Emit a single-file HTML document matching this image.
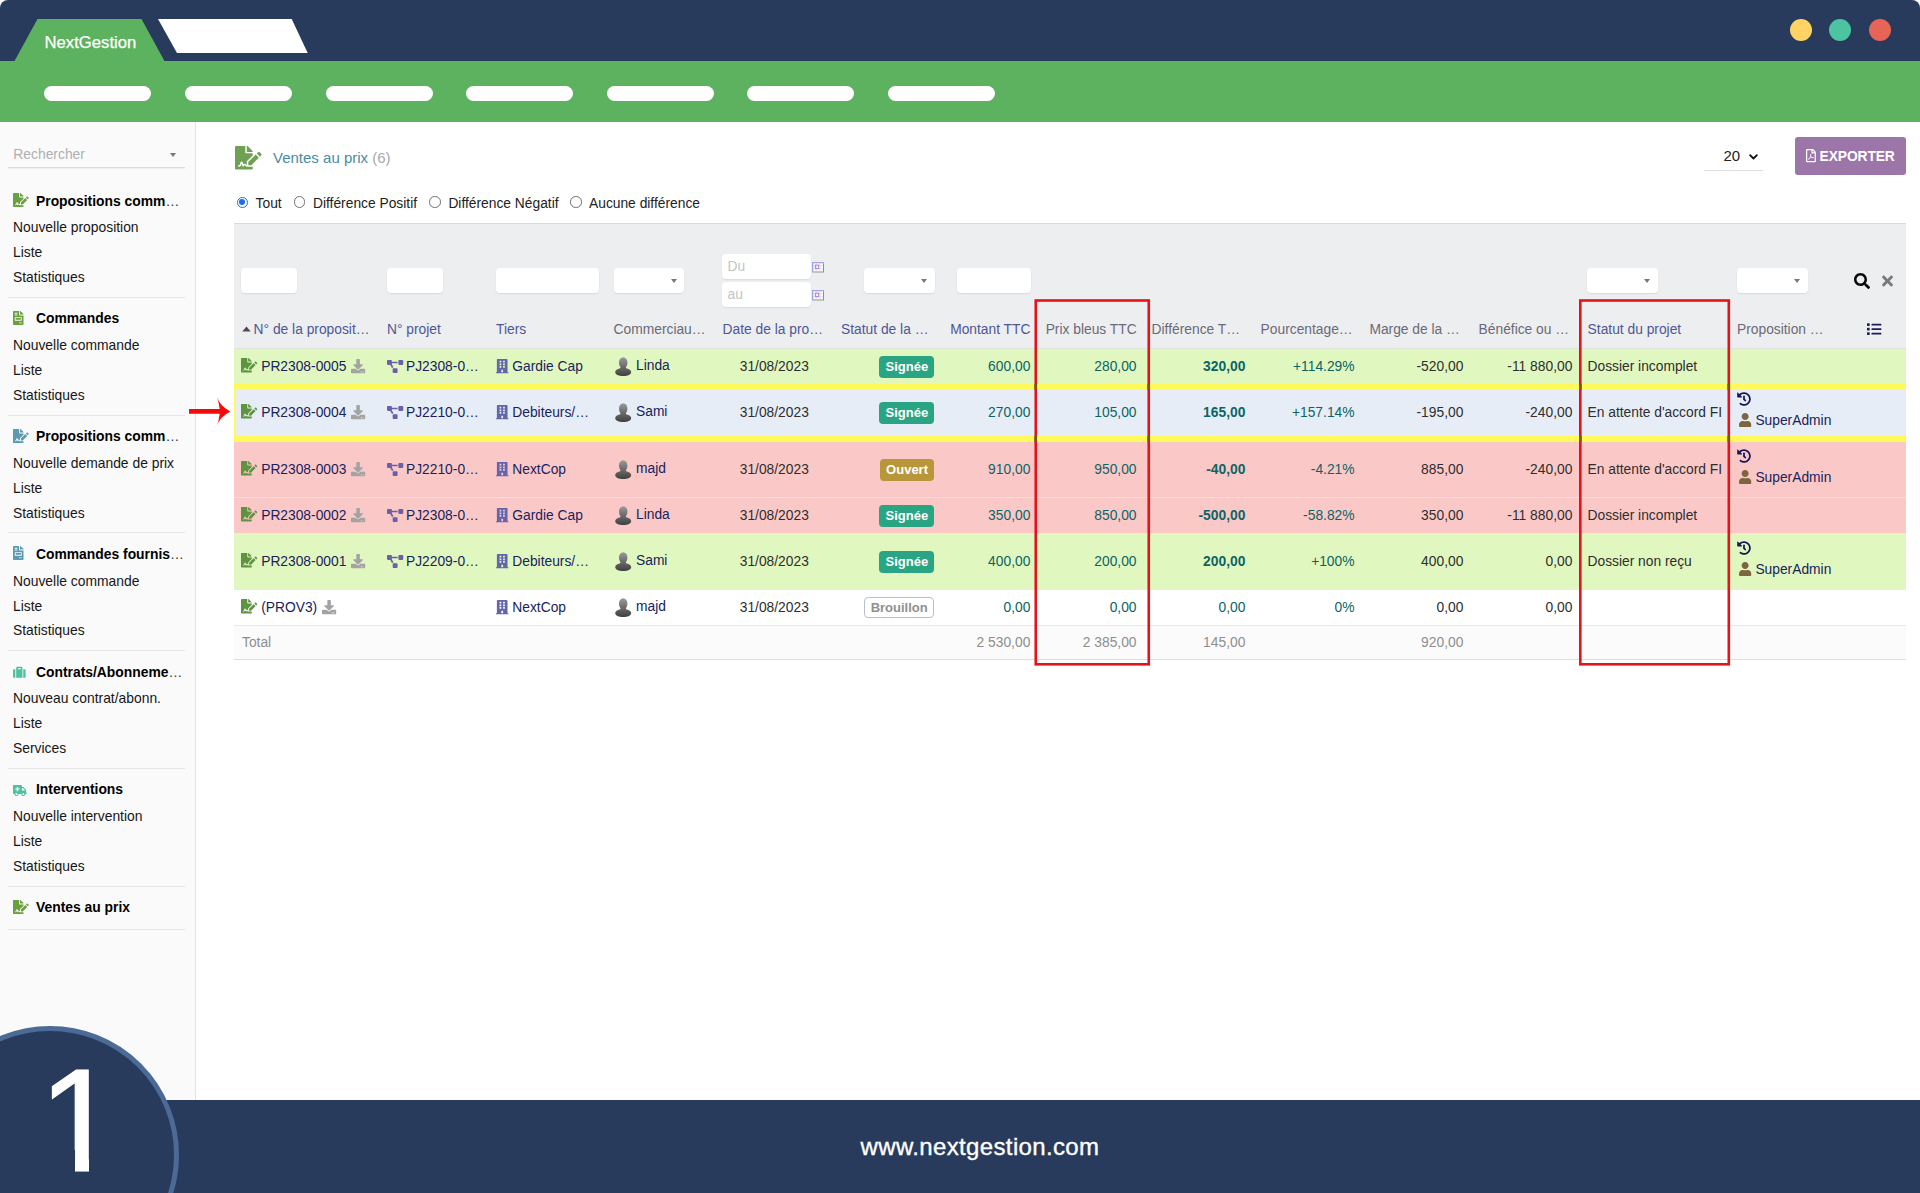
<!DOCTYPE html>
<html lang="fr">
<head>
<meta charset="utf-8">
<title>NextGestion - Ventes au prix</title>
<style>
*{box-sizing:border-box;margin:0;padding:0}
html,body{width:1920px;height:1193px;overflow:hidden;background:#fff}
body{font-family:"Liberation Sans",sans-serif;font-size:14px;color:#333;position:relative}
.abs{position:absolute}
svg{display:block;overflow:visible}
/* ---------- window chrome ---------- */
#chrome{position:absolute;left:0;top:0;width:1920px;height:61px;background:#283b5c;border-radius:8px 8px 0 0}
#greenbar{position:absolute;left:0;top:61px;width:1920px;height:61px;background:#5db25f}
#tabs{position:absolute;left:0;top:0;width:400px;height:62px}
#tabname{position:absolute;left:44.5px;top:33px;width:93px;height:20px;line-height:20px;font-size:16.7px;color:#fff;white-space:nowrap;-webkit-text-stroke:.25px #fff}
.dot{position:absolute;top:19px;width:22px;height:22px;border-radius:50%}
.pill{position:absolute;top:86px;width:107px;height:15px;border-radius:8px;background:#fff}
/* ---------- sidebar ---------- */
#side{position:absolute;left:0;top:122px;width:196px;height:978px;background:#fafafa;border-right:1px solid #e3e3e3}
#srch{position:absolute;left:8px;top:20px;width:177px;height:26px;border-bottom:1px solid #dcdcdc;box-shadow:0 1px 1px rgba(0,0,0,.04)}
#srch span{position:absolute;left:5.3px;top:2px;line-height:20px;font-size:13.86px;color:#b0b0b0}
#srch i{position:absolute;left:162px;top:11px;width:0;height:0;border-left:3.5px solid transparent;border-right:3.5px solid transparent;border-top:4.5px solid #777}
.sec{position:absolute;left:0;width:195px}
.sec .ic{position:absolute;left:13px;top:0}
.sec b{position:absolute;left:36px;top:-3.2px;line-height:20px;font-size:13.86px;color:#000;white-space:nowrap;font-weight:bold}
.sec b em{font-style:normal;font-weight:normal;color:#333}
.sec a{position:absolute;left:13px;line-height:20px;font-size:13.86px;color:#161616;white-space:nowrap}
.sec hr{position:absolute;left:8px;width:177px;border:0;border-top:1px solid #e6e6e6}
/* ---------- main ---------- */
.t em{font-style:normal;font-weight:normal;color:#333}
.t{position:absolute;height:20px;line-height:20px;white-space:nowrap;font-size:13.8px}
.inp{position:absolute;background:#fff;border-radius:4px;box-shadow:0 1px 1.500px rgba(0,0,0,.09)}
.bdg{position:absolute;height:22px;line-height:22px;border-radius:4px;text-align:center;font-weight:bold;font-size:13px;white-space:nowrap}
/* ---------- footer ---------- */
#foot{position:absolute;left:0;top:1100px;width:1920px;height:93px;background:#283b5c}
#foot span{position:absolute;left:760px;width:440px;top:30px;line-height:34px;text-align:center;color:#fff;font-size:24px;letter-spacing:.35px;white-space:nowrap;-webkit-text-stroke:.35px #fff}
#num{position:absolute;left:-79px;top:1026px;width:258px;height:258px;border-radius:50%;background:#283b5c;border:5px solid #4b6a96}
#one{position:absolute;left:38.2px;top:1040px;width:82px;height:160px;line-height:160px;font-size:147px;color:#fff;text-align:center;-webkit-text-stroke:1px #fff}
.cov{position:absolute;background:#283b5c}
</style>
</head>
<body>
<svg width="0" height="0" style="position:absolute"><defs><linearGradient id="ug" gradientUnits="userSpaceOnUse" x1="0" y1="0" x2="0" y2="20"><stop offset="0" stop-color="#9c9c9c"/><stop offset=".4" stop-color="#747474"/><stop offset="1" stop-color="#3e3e3c"/></linearGradient></defs></svg>
<div id="chrome"></div>
<div id="greenbar"></div>
<svg id="tabs" viewBox="0 0 400 62" width="400" height="62">
  <polygon points="14,62 37.5,19 141.5,19 165,62" fill="#5db25f"/>
  <polygon points="158,19 291.7,19 307.7,53 177,53" fill="#ffffff"/>
</svg>
<div id="tabname">NextGestion</div>
<div class="dot" style="left:1790px;background:#ffd464"></div>
<div class="dot" style="left:1829px;background:#4cc3a1"></div>
<div class="dot" style="left:1869px;background:#e66556"></div>
<div class="pill" style="left:44px"></div>
<div class="pill" style="left:185px"></div>
<div class="pill" style="left:326px"></div>
<div class="pill" style="left:466px"></div>
<div class="pill" style="left:607px"></div>
<div class="pill" style="left:747px"></div>
<div class="pill" style="left:888px"></div>

<!-- SIDEBAR -->
<div id="side">
  <div id="srch"><span>Rechercher</span><i></i></div>
</div>
<div id="sidesec">
<span class="abs" style="left:13.1px;top:193.29999999999998px;"><svg viewBox="0 0 576 512" width="15.75" height="14.00" style=""><path fill="#6aa040" d="M218.17 424.14c-2.95-5.92-8.09-6.52-10.17-6.52s-7.22.59-10.02 6.19l-7.67 15.34c-6.37 12.78-25.03 11.37-29.48-2.09L144 386.59l-10.61 31.88c-5.89 17.66-22.38 29.53-41 29.53H80c-8.84 0-16-7.16-16-16s7.16-16 16-16h12.39c4.83 0 9.11-3.08 10.64-7.66l18.19-54.64c3.3-9.81 12.44-16.41 22.78-16.41s19.48 6.59 22.77 16.41l13.88 41.64c19.75-16.19 54.06-9.7 66 14.16 1.89 3.78 5.49 5.95 9.36 6.26v-82.12l128-127.09V160H248c-13.2 0-24-10.8-24-24V0H24C10.7 0 0 10.7 0 24v464c0 13.3 10.7 24 24 24h336c13.3 0 24-10.7 24-24v-40l-128-.11c-16.12-.31-30.58-9.28-37.83-23.75zM384 121.9c0-6.3-2.5-12.4-7-16.9L279.1 7c-4.5-4.5-10.6-7-17-7H256v128h128v-6.1zm-96 225.06V416h68.99l161.68-162.78-67.88-67.88L288 346.96zm280.54-179.63l-31.87-31.87c-9.94-9.94-26.07-9.94-36.01 0l-27.25 27.25 67.88 67.88 27.25-27.25c9.95-9.94 9.95-26.07 0-36.01z"/></svg></span>
<div class="t " style="left:36px;top:191.30px;font-size:13.86px;font-weight:bold;color:#000">Propositions comm<em>…</em></div>
<div class="t " style="left:13px;top:217.30px;font-size:13.86px;color:#161616">Nouvelle proposition</div>
<div class="t " style="left:13px;top:242.30px;font-size:13.86px;color:#161616">Liste</div>
<div class="t " style="left:13px;top:267.30px;font-size:13.86px;color:#161616">Statistiques</div>
<div class="abs" style="left:8px;top:297px;width:177px;height:1px;background:#e6e6e6"></div>
<span class="abs" style="left:13.1px;top:310.95px;"><svg viewBox="0 0 384 512" width="10.50" height="14.00" style=""><path fill="#6aa040" d="M288 256H96v64h192v-64zm89-151L279.1 7c-4.5-4.5-10.6-7-17-7H256v128h128v-6.1c0-6.3-2.5-12.4-7-16.9zm-153 31V0H24C10.7 0 0 10.7 0 24v464c0 13.3 10.7 24 24 24h336c13.3 0 24-10.7 24-24V160H248c-13.2 0-24-10.8-24-24zM64 72c0-4.42 3.58-8 8-8h80c4.42 0 8 3.58 8 8v16c0 4.42-3.58 8-8 8H72c-4.42 0-8-3.58-8-8V72zm0 64c0-4.42 3.58-8 8-8h80c4.42 0 8 3.58 8 8v16c0 4.42-3.58 8-8 8H72c-4.42 0-8-3.58-8-8v-16zm256 304c0 4.42-3.58 8-8 8h-80c-4.42 0-8-3.58-8-8v-16c0-4.42 3.58-8 8-8h80c4.42 0 8 3.58 8 8v16zm0-200v96c0 8.84-7.16 16-16 16H80c-8.84 0-16-7.16-16-16v-96c0-8.84 7.16-16 16-16h224c8.84 0 16 7.16 16 16z"/></svg></span>
<div class="t " style="left:36px;top:308.30px;font-size:13.86px;font-weight:bold;color:#000">Commandes</div>
<div class="t " style="left:13px;top:335.30px;font-size:13.86px;color:#161616">Nouvelle commande</div>
<div class="t " style="left:13px;top:360.30px;font-size:13.86px;color:#161616">Liste</div>
<div class="t " style="left:13px;top:385.30px;font-size:13.86px;color:#161616">Statistiques</div>
<div class="abs" style="left:8px;top:415px;width:177px;height:1px;background:#e6e6e6"></div>
<span class="abs" style="left:13.1px;top:428.8px;"><svg viewBox="0 0 576 512" width="15.75" height="14.00" style=""><path fill="#5b9ab5" d="M218.17 424.14c-2.95-5.92-8.09-6.52-10.17-6.52s-7.22.59-10.02 6.19l-7.67 15.34c-6.37 12.78-25.03 11.37-29.48-2.09L144 386.59l-10.61 31.88c-5.89 17.66-22.38 29.53-41 29.53H80c-8.84 0-16-7.16-16-16s7.16-16 16-16h12.39c4.83 0 9.11-3.08 10.64-7.66l18.19-54.64c3.3-9.81 12.44-16.41 22.78-16.41s19.48 6.59 22.77 16.41l13.88 41.64c19.75-16.19 54.06-9.7 66 14.16 1.89 3.78 5.49 5.95 9.36 6.26v-82.12l128-127.09V160H248c-13.2 0-24-10.8-24-24V0H24C10.7 0 0 10.7 0 24v464c0 13.3 10.7 24 24 24h336c13.3 0 24-10.7 24-24v-40l-128-.11c-16.12-.31-30.58-9.28-37.83-23.75zM384 121.9c0-6.3-2.5-12.4-7-16.9L279.1 7c-4.5-4.5-10.6-7-17-7H256v128h128v-6.1zm-96 225.06V416h68.99l161.68-162.78-67.88-67.88L288 346.96zm280.54-179.63l-31.87-31.87c-9.94-9.94-26.07-9.94-36.01 0l-27.25 27.25 67.88 67.88 27.25-27.25c9.95-9.94 9.95-26.07 0-36.01z"/></svg></span>
<div class="t " style="left:36px;top:426.30px;font-size:13.86px;font-weight:bold;color:#000">Propositions comm<em>…</em></div>
<div class="t " style="left:13px;top:453.30px;font-size:13.86px;color:#161616">Nouvelle demande de prix</div>
<div class="t " style="left:13px;top:478.30px;font-size:13.86px;color:#161616">Liste</div>
<div class="t " style="left:13px;top:503.30px;font-size:13.86px;color:#161616">Statistiques</div>
<div class="abs" style="left:8px;top:532px;width:177px;height:1px;background:#e6e6e6"></div>
<span class="abs" style="left:13.1px;top:546.45px;"><svg viewBox="0 0 384 512" width="10.50" height="14.00" style=""><path fill="#5b9ab5" d="M288 256H96v64h192v-64zm89-151L279.1 7c-4.5-4.5-10.6-7-17-7H256v128h128v-6.1c0-6.3-2.5-12.4-7-16.9zm-153 31V0H24C10.7 0 0 10.7 0 24v464c0 13.3 10.7 24 24 24h336c13.3 0 24-10.7 24-24V160H248c-13.2 0-24-10.8-24-24zM64 72c0-4.42 3.58-8 8-8h80c4.42 0 8 3.58 8 8v16c0 4.42-3.58 8-8 8H72c-4.42 0-8-3.58-8-8V72zm0 64c0-4.42 3.58-8 8-8h80c4.42 0 8 3.58 8 8v16c0 4.42-3.58 8-8 8H72c-4.42 0-8-3.58-8-8v-16zm256 304c0 4.42-3.58 8-8 8h-80c-4.42 0-8-3.58-8-8v-16c0-4.42 3.58-8 8-8h80c4.42 0 8 3.58 8 8v16zm0-200v96c0 8.84-7.16 16-16 16H80c-8.84 0-16-7.16-16-16v-96c0-8.84 7.16-16 16-16h224c8.84 0 16 7.16 16 16z"/></svg></span>
<div class="t " style="left:36px;top:544.30px;font-size:13.86px;font-weight:bold;color:#000">Commandes fournis<em>…</em></div>
<div class="t " style="left:13px;top:571.30px;font-size:13.86px;color:#161616">Nouvelle commande</div>
<div class="t " style="left:13px;top:596.30px;font-size:13.86px;color:#161616">Liste</div>
<div class="t " style="left:13px;top:620.30px;font-size:13.86px;color:#161616">Statistiques</div>
<div class="abs" style="left:8px;top:650px;width:177px;height:1px;background:#e6e6e6"></div>
<span class="abs" style="left:13.1px;top:666.2px;"><svg viewBox="0 0 512 512" width="12.60" height="12.60" style=""><path fill="#4fc1a1" d="M128 480h256V80c0-26.5-21.5-48-48-48H176c-26.5 0-48 21.5-48 48v400zm64-384h128v32H192V96zm320 80v256c0 26.5-21.5 48-48 48h-48V128h48c26.5 0 48 21.5 48 48zM96 480H48c-26.5 0-48-21.5-48-48V176c0-26.5 21.5-48 48-48h48v352z"/></svg></span>
<div class="t " style="left:36px;top:662.30px;font-size:13.86px;font-weight:bold;color:#000">Contrats/Abonneme<em>…</em></div>
<div class="t " style="left:13px;top:688.30px;font-size:13.86px;color:#161616">Nouveau contrat/abonn.</div>
<div class="t " style="left:13px;top:713.30px;font-size:13.86px;color:#161616">Liste</div>
<div class="t " style="left:13px;top:738.30px;font-size:13.86px;color:#161616">Services</div>
<div class="abs" style="left:8px;top:768px;width:177px;height:1px;background:#e6e6e6"></div>
<span class="abs" style="left:13.1px;top:785.25px;"><svg viewBox="0 0 640 512" width="13.75" height="11.00" style=""><path fill="#4fc1a1" d="M624 352h-16V243.9c0-12.7-5.1-24.9-14.1-33.9L494 110.1c-9-9-21.2-14.1-33.9-14.1H416V48c0-26.5-21.5-48-48-48H48C21.5 0 0 21.5 0 48v320c0 26.5 21.5 48 48 48h16c0 53 43 96 96 96s96-43 96-96h128c0 53 43 96 96 96s96-43 96-96h48c8.8 0 16-7.2 16-16v-32c0-8.800-7.200-16-16-16zM160 464c-26.500 0-48-21.500-48-48s21.500-48 48-48 48 21.500 48 48-21.500 48-48 48zm144-248c0 4.400-3.600 8-8 8h-56v56c0 4.400-3.600 8-8 8h-48c-4.400 0-8-3.600-8-8v-56h-56c-4.400 0-8-3.600-8-8v-48c0-4.400 3.600-8 8-8h56v-56c0-4.400 3.600-8 8-8h48c4.400 0 8 3.600 8 8v56h56c4.400 0 8 3.600 8 8v48zm176 248c-26.500 0-48-21.500-48-48s21.500-48 48-48 48 21.500 48 48-21.500 48-48 48zm80-208H416V144h44.100l99.900 99.900V256z"/></svg></span>
<div class="t " style="left:36px;top:779.30px;font-size:13.86px;font-weight:bold;color:#000">Interventions</div>
<div class="t " style="left:13px;top:806.30px;font-size:13.86px;color:#161616">Nouvelle intervention</div>
<div class="t " style="left:13px;top:831.30px;font-size:13.86px;color:#161616">Liste</div>
<div class="t " style="left:13px;top:856.30px;font-size:13.86px;color:#161616">Statistiques</div>
<div class="abs" style="left:8px;top:886px;width:177px;height:1px;background:#e6e6e6"></div>
<span class="abs" style="left:13.1px;top:899.8000000000001px;"><svg viewBox="0 0 576 512" width="15.75" height="14.00" style=""><path fill="#6aa040" d="M218.17 424.14c-2.95-5.92-8.09-6.52-10.17-6.52s-7.22.59-10.02 6.19l-7.67 15.34c-6.37 12.78-25.03 11.37-29.48-2.09L144 386.59l-10.61 31.88c-5.89 17.66-22.38 29.53-41 29.53H80c-8.84 0-16-7.16-16-16s7.16-16 16-16h12.39c4.83 0 9.11-3.08 10.64-7.66l18.19-54.64c3.3-9.81 12.44-16.41 22.78-16.41s19.48 6.59 22.77 16.41l13.88 41.64c19.75-16.19 54.06-9.7 66 14.16 1.89 3.78 5.49 5.95 9.36 6.26v-82.12l128-127.09V160H248c-13.2 0-24-10.8-24-24V0H24C10.7 0 0 10.7 0 24v464c0 13.3 10.7 24 24 24h336c13.3 0 24-10.7 24-24v-40l-128-.11c-16.12-.31-30.58-9.28-37.83-23.75zM384 121.9c0-6.3-2.5-12.4-7-16.9L279.1 7c-4.5-4.5-10.6-7-17-7H256v128h128v-6.1zm-96 225.06V416h68.99l161.68-162.78-67.88-67.88L288 346.96zm280.54-179.63l-31.87-31.87c-9.94-9.94-26.07-9.94-36.01 0l-27.25 27.25 67.88 67.88 27.25-27.25c9.95-9.94 9.95-26.07 0-36.01z"/></svg></span>
<div class="t " style="left:36px;top:897.30px;font-size:13.86px;font-weight:bold;color:#000">Ventes au prix</div>
<div class="abs" style="left:8px;top:929px;width:177px;height:1px;background:#e6e6e6"></div>
</div>

<!-- MAIN -->
<div id="main">
<span class="abs" style="left:235px;top:145.8px;"><svg viewBox="0 0 576 512" width="26.55" height="23.60" style=""><path fill="#6fa152" d="M218.17 424.14c-2.95-5.92-8.09-6.52-10.17-6.52s-7.22.59-10.02 6.19l-7.67 15.34c-6.37 12.78-25.03 11.37-29.48-2.09L144 386.59l-10.61 31.88c-5.89 17.66-22.38 29.53-41 29.53H80c-8.84 0-16-7.16-16-16s7.16-16 16-16h12.39c4.83 0 9.11-3.08 10.64-7.66l18.19-54.64c3.3-9.81 12.44-16.41 22.78-16.41s19.48 6.59 22.77 16.41l13.88 41.64c19.75-16.19 54.06-9.7 66 14.16 1.89 3.78 5.49 5.95 9.36 6.26v-82.12l128-127.09V160H248c-13.2 0-24-10.8-24-24V0H24C10.7 0 0 10.7 0 24v464c0 13.3 10.7 24 24 24h336c13.3 0 24-10.7 24-24v-40l-128-.11c-16.12-.31-30.58-9.28-37.83-23.75zM384 121.9c0-6.3-2.5-12.4-7-16.9L279.1 7c-4.5-4.5-10.6-7-17-7H256v128h128v-6.1zm-96 225.06V416h68.99l161.68-162.78-67.88-67.88L288 346.96zm280.54-179.63l-31.87-31.87c-9.94-9.94-26.07-9.94-36.01 0l-27.25 27.25 67.88 67.88 27.25-27.25c9.95-9.94 9.95-26.07 0-36.01z"/></svg></span>
<div class="t " style="left:273px;top:147.80px;font-size:15px;color:#4a8c9f">Ventes au prix <span style="color:#a9a9a9">(6)</span></div>
<span class="abs" style="left:236.7px;top:196.7px;width:11.6px;height:11.6px;border-radius:50%;border:1.4px solid #1a6ef0;background:#fff"><i style="position:absolute;left:1.3px;top:1.3px;width:6.2px;height:6.2px;border-radius:50%;background:#1a6ef0"></i></span>
<div class="t " style="left:255.6px;top:193.80px;color:#222">Tout</div>
<span class="abs" style="left:293.7px;top:196.29999999999998px;width:11.6px;height:11.6px;border-radius:50%;border:1px solid #707070;background:#fff"></span>
<div class="t " style="left:313px;top:193.80px;color:#222">Différence Positif</div>
<span class="abs" style="left:429.0px;top:196.29999999999998px;width:11.6px;height:11.6px;border-radius:50%;border:1px solid #707070;background:#fff"></span>
<div class="t " style="left:448.4px;top:193.80px;color:#222">Différence Négatif</div>
<span class="abs" style="left:570.4000000000001px;top:196.29999999999998px;width:11.6px;height:11.6px;border-radius:50%;border:1px solid #707070;background:#fff"></span>
<div class="t " style="left:589px;top:193.80px;color:#222">Aucune différence</div>
<div class="t " style="left:1723.5px;top:145.80px;font-size:15px;color:#222">20</div>
<svg class="abs" style="left:1748.8px;top:153.6px" width="9" height="6" viewBox="0 0 9 6"><path d="M1.1 1.1 L4.5 4.5 L7.9 1.1" fill="none" stroke="#111" stroke-width="1.8" stroke-linecap="round" stroke-linejoin="round"/></svg>
<div class="abs" style="left:1704px;top:169.5px;width:59px;height:1px;background:#dcdcdc"></div>
<div class="abs" style="left:1795px;top:137px;width:111px;height:38px;border-radius:3px;background:#9c75a9"></div>
<span class="abs" style="left:1805.6px;top:149.2px;"><svg viewBox="0 0 384 512" width="9.90" height="13.20" style=""><path fill="#fff" d="M369.900 97.900L286 14C277 5 264.800-.1 252.100-.1H48C21.500 0 0 21.500 0 48v416c0 26.500 21.500 48 48 48h288c26.500 0 48-21.500 48-48V131.900c0-12.700-5.100-25-14.100-34zM332.100 128H256V51.900l76.100 76.100zM48 464V48h160v104c0 13.300 10.700 24 24 24h104v288H48zm250.200-143.700c-12.200-12-47-8.700-64.400-6.500-17.200-10.500-28.700-25-36.800-46.300 3.900-16.100 10.100-40.600 5.400-56-4.200-26.200-37.800-23.600-42.600-5.900-4.400 16.100-.4 38.500 7 67.100-10 23.900-24.900 56-35.400 74.400-20 10.300-47 26.200-51 46.200-3.300 15.800 26 55.200 76.100-31.200 22.400-7.400 46.800-16.500 68.400-20.100 18.900 10.200 41 17 55.800 17 25.500 0 28-28.200 17.500-38.700zm-198.100 77.800c5.100-13.700 24.500-29.500 30.400-35-19 30.300-30.400 35.700-30.400 35zm81.600-190.600c7.400 0 6.700 32.100 1.800 40.800-4.400-13.900-4.300-40.800-1.800-40.800zm-24.400 136.600c9.700-16.900 18-37 24.700-54.700 8.300 15.100 18.900 27.200 30.100 35.500-20.800 4.300-38.900 13.100-54.800 19.200zm131.600-5s-5 6-37.300-7.800c35.100-2.600 40.900 5.400 37.300 7.800z"/></svg></span>
<div class="t " style="left:1819.6px;top:146.80px;font-weight:bold;color:#fff;font-size:13.8px;letter-spacing:-.1px">EXPORTER</div>
<div class="abs" style="left:234px;top:223px;width:1672px;height:126px;background:#edeef0;border-top:1px solid #dadbdd"></div>
<div class="inp" style="left:241px;top:268px;width:56px;height:25px"></div>
<div class="inp" style="left:387px;top:268px;width:56px;height:25px"></div>
<div class="inp" style="left:496px;top:268px;width:103px;height:25px"></div>
<div class="inp" style="left:614px;top:268px;width:70px;height:25px"><i style="position:absolute;right:7.5px;top:10.5px;width:0;height:0;border-left:3.5px solid transparent;border-right:3.5px solid transparent;border-top:4.5px solid #787878"></i></div>
<div class="inp" style="left:722px;top:254px;width:89px;height:25px"></div>
<div class="inp" style="left:722px;top:282px;width:89px;height:25px"></div>
<div class="t " style="left:727.5px;top:256.80px;color:#c4c4c4">Du</div>
<div class="t " style="left:727.5px;top:284.80px;color:#c4c4c4">au</div>
<span class="abs" style="left:812.2px;top:262.2px"><svg width="12" height="10.400" viewBox="0 0 12 10.400"><rect width="12" height="10.400" fill="#fff"/><path d="M4.200 1.200v8M8 1.200v8M1.200 3.800h9.800M1.200 6.800h9.800" stroke="#d9d4ec" stroke-width=".8" fill="none"/><path d="M0 0h12v1.300H1.300v9.100H0z" fill="#a3a4e3"/><path d="M12 1.300v9.100H1.300v-1h9.700V1.300z" fill="#8e8e8e"/><rect x="3.400" y="3.100" width="3.300" height="3.500" fill="none" stroke="#b583c0" stroke-width="1"/></svg></span>
<span class="abs" style="left:812.2px;top:290.2px"><svg width="12" height="10.400" viewBox="0 0 12 10.400"><rect width="12" height="10.400" fill="#fff"/><path d="M4.200 1.200v8M8 1.200v8M1.200 3.800h9.800M1.200 6.800h9.800" stroke="#d9d4ec" stroke-width=".8" fill="none"/><path d="M0 0h12v1.300H1.300v9.100H0z" fill="#a3a4e3"/><path d="M12 1.300v9.100H1.300v-1h9.700V1.300z" fill="#8e8e8e"/><rect x="3.400" y="3.100" width="3.300" height="3.500" fill="none" stroke="#b583c0" stroke-width="1"/></svg></span>
<div class="inp" style="left:864px;top:268px;width:70.5px;height:25px"><i style="position:absolute;right:7.5px;top:10.5px;width:0;height:0;border-left:3.5px solid transparent;border-right:3.5px solid transparent;border-top:4.5px solid #787878"></i></div>
<div class="inp" style="left:957px;top:268px;width:73.5px;height:25px"></div>
<div class="inp" style="left:1587px;top:268px;width:70.5px;height:25px"><i style="position:absolute;right:7.5px;top:10.5px;width:0;height:0;border-left:3.5px solid transparent;border-right:3.5px solid transparent;border-top:4.5px solid #787878"></i></div>
<div class="inp" style="left:1737px;top:268px;width:70.5px;height:25px"><i style="position:absolute;right:7.5px;top:10.5px;width:0;height:0;border-left:3.5px solid transparent;border-right:3.5px solid transparent;border-top:4.5px solid #787878"></i></div>
<span class="abs" style="left:1854px;top:272.8px;"><svg viewBox="0 0 512 512" width="16.00" height="16.00" style=""><path fill="#0a0a0a" d="M505 442.700L405.300 343c-4.500-4.500-10.600-7-17-7H372c27.600-35.300 44-79.700 44-128C416 93.100 322.900 0 208 0S0 93.100 0 208s93.100 208 208 208c48.300 0 92.700-16.400 128-44v16.300c0 6.400 2.500 12.500 7 17l99.700 99.700c9.400 9.400 24.600 9.400 33.900 0l28.300-28.300c9.400-9.400 9.400-24.600.100-34zM208 336c-70.700 0-128-57.200-128-128 0-70.700 57.200-128 128-128 70.700 0 128 57.200 128 128 0 70.700-57.200 128-128 128z"/></svg></span>
<span class="abs" style="left:1881.6px;top:272.7px;"><svg viewBox="0 0 352 512" width="11.00" height="16.00" style=""><path fill="#7a7a7a" d="M242.720 256l100.070-100.070c12.280-12.280 12.280-32.190 0-44.480l-22.240-22.240c-12.280-12.280-32.190-12.280-44.480 0L176 189.280 75.930 89.210c-12.280-12.280-32.190-12.280-44.480 0L9.210 111.450c-12.280 12.280-12.280 32.190 0 44.480L109.280 256 9.210 356.070c-12.280 12.280-12.280 32.190 0 44.480l22.240 22.240c12.280 12.280 32.200 12.280 44.480 0L176 322.720l100.070 100.070c12.280 12.280 32.200 12.280 44.480 0l22.240-22.240c12.280-12.280 12.280-32.190 0-44.480L242.720 256z"/></svg></span>
<svg class="abs" style="left:241.5px;top:326px" width="9" height="6" viewBox="0 0 9 6"><path d="M0.3 5.6 L4.5 0.6 L8.7 5.6 Z" fill="#4a4a5a"/></svg>
<div class="t " style="left:253.6px;top:319.80px;color:#4d5796">N° de la proposit…</div>
<div class="t " style="left:387px;top:319.80px;color:#4d5796">N° projet</div>
<div class="t " style="left:496px;top:319.80px;color:#4d5796">Tiers</div>
<div class="t " style="left:613.6px;top:319.80px;color:#6a6a78">Commerciau…</div>
<div class="t " style="left:722.6px;top:319.80px;color:#4d5796">Date de la pro…</div>
<div class="t " style="left:841px;top:319.80px;color:#4d5796">Statut de la …</div>
<div class="t " style="right:889.5999999999999px;top:319.80px;color:#4d5796">Montant TTC</div>
<div class="t " style="right:783.4000000000001px;top:319.80px;color:#6a6a78">Prix bleus TTC</div>
<div class="t " style="left:1151.6px;top:319.80px;color:#6a6a78">Différence T…</div>
<div class="t " style="left:1260.6px;top:319.80px;color:#6a6a78">Pourcentage…</div>
<div class="t " style="left:1369.4px;top:319.80px;color:#6a6a78">Marge de la …</div>
<div class="t " style="left:1478.6px;top:319.80px;color:#6a6a78">Bénéfice ou …</div>
<div class="t " style="left:1587.6px;top:319.80px;color:#4d5796">Statut du projet</div>
<div class="t " style="left:1737px;top:319.80px;color:#6a6a78">Proposition …</div>
<span class="abs" style="left:1866.8px;top:321.9px;"><svg viewBox="0 0 512 512" width="14.40" height="14.40" style=""><path fill="#1b1f55" d="M80 368H16a16 16 0 0 0-16 16v64a16 16 0 0 0 16 16h64a16 16 0 0 0 16-16v-64a16 16 0 0 0-16-16zm0-320H16A16 16 0 0 0 0 64v64a16 16 0 0 0 16 16h64a16 16 0 0 0 16-16V64a16 16 0 0 0-16-16zm0 160H16a16 16 0 0 0-16 16v64a16 16 0 0 0 16 16h64a16 16 0 0 0 16-16v-64a16 16 0 0 0-16-16zm416 176H176a16 16 0 0 0-16 16v32a16 16 0 0 0 16 16h320a16 16 0 0 0 16-16v-32a16 16 0 0 0-16-16zm0-320H176a16 16 0 0 0-16 16v32a16 16 0 0 0 16 16h320a16 16 0 0 0 16-16V80a16 16 0 0 0-16-16zm0 160H176a16 16 0 0 0-16 16v32a16 16 0 0 0 16 16h320a16 16 0 0 0 16-16v-32a16 16 0 0 0-16-16z"/></svg></span>
<div class="abs" style="left:234px;top:348px;width:1672px;height:1px;background:#e0e2dd"></div>
<div class="abs" style="left:234px;top:349px;width:1672px;height:35px;background:#e1f7c0"></div>
<span class="abs" style="left:241.3px;top:358.2px;"><svg viewBox="0 0 576 512" width="16.20" height="14.40" style=""><path fill="#5e9440" d="M218.17 424.14c-2.95-5.92-8.09-6.52-10.17-6.52s-7.22.59-10.02 6.19l-7.67 15.34c-6.37 12.78-25.03 11.37-29.48-2.09L144 386.59l-10.61 31.88c-5.89 17.66-22.38 29.53-41 29.53H80c-8.84 0-16-7.16-16-16s7.16-16 16-16h12.39c4.83 0 9.11-3.08 10.64-7.66l18.19-54.64c3.3-9.81 12.44-16.41 22.78-16.41s19.48 6.59 22.77 16.41l13.88 41.64c19.75-16.19 54.06-9.7 66 14.16 1.89 3.78 5.49 5.95 9.36 6.26v-82.12l128-127.09V160H248c-13.2 0-24-10.8-24-24V0H24C10.7 0 0 10.7 0 24v464c0 13.3 10.7 24 24 24h336c13.3 0 24-10.7 24-24v-40l-128-.11c-16.12-.31-30.58-9.28-37.83-23.75zM384 121.9c0-6.3-2.5-12.4-7-16.9L279.1 7c-4.5-4.5-10.6-7-17-7H256v128h128v-6.1zm-96 225.06V416h68.99l161.68-162.78-67.88-67.88L288 346.96zm280.54-179.63l-31.87-31.87c-9.94-9.94-26.07-9.94-36.01 0l-27.25 27.25 67.88 67.88 27.25-27.25c9.95-9.94 9.95-26.07 0-36.01z"/></svg></span>
<div class="t " style="left:261.2px;top:356.80px;color:#18235c">PR2308-0005</div>
<span class="abs" style="left:351px;top:359.4px;"><svg viewBox="0 0 512 512" width="14.20" height="14.20" style=""><path fill="#a3a3a3" d="M216 0h80c13.3 0 24 10.7 24 24v168h87.7c17.8 0 26.7 21.5 14.100 34.100L269.700 378.300c-7.500 7.500-19.800 7.500-27.300 0L90.100 226.100c-12.600-12.600-3.700-34.100 14.100-34.100H192V24c0-13.300 10.700-24 24-24zm296 376v112c0 13.300-10.700 24-24 24H24c-13.300 0-24-10.700-24-24V376c0-13.300 10.700-24 24-24h146.700l49 49c20.100 20.100 52.500 20.100 72.600 0l49-49H488c13.300 0 24 10.700 24 24zm-124 88c0-11-9-20-20-20s-20 9-20 20 9 20 20 20 20-9 20-20zm64 0c0-11-9-20-20-20s-20 9-20 20 9 20 20 20 20-9 20-20z"/></svg></span>
<span class="abs" style="left:387px;top:360px;"><svg viewBox="0 0 640 512" width="16.25" height="13.00" style=""><path fill="#6a5fa8" d="M384 320H256c-17.67 0-32 14.33-32 32v128c0 17.67 14.33 32 32 32h128c17.67 0 32-14.33 32-32V352c0-17.67-14.33-32-32-32zM192 32c0-17.67-14.33-32-32-32H32C14.33 0 0 14.33 0 32v128c0 17.67 14.33 32 32 32h95.720l73.160 128.040C211.980 300.980 232.400 288 256 288h.280L192 175.510V128h224V64H192V32zM608 0H480c-17.670 0-32 14.330-32 32v128c0 17.670 14.330 32 32 32h128c17.670 0 32-14.330 32-32V32c0-17.670-14.330-32-32-32z"/></svg></span>
<div class="t " style="left:406px;top:356.80px;color:#18235c">PJ2308-0…</div>
<span class="abs" style="left:496.2px;top:359.4px;"><svg viewBox="0 0 448 512" width="12.42" height="14.20" style=""><path fill="#6466ab" d="M436 480h-20V24c0-13.255-10.745-24-24-24H56C42.745 0 32 10.745 32 24v456H12c-6.627 0-12 5.373-12 12v20h448v-20c0-6.627-5.373-12-12-12zM128 76c0-6.627 5.373-12 12-12h40c6.627 0 12 5.373 12 12v40c0 6.627-5.373 12-12 12h-40c-6.627 0-12-5.373-12-12V76zm0 96c0-6.627 5.373-12 12-12h40c6.627 0 12 5.373 12 12v40c0 6.627-5.373 12-12 12h-40c-6.627 0-12-5.373-12-12v-40zm52 148h-40c-6.627 0-12-5.373-12-12v-40c0-6.627 5.373-12 12-12h40c6.627 0 12 5.373 12 12v40c0 6.627-5.373 12-12 12zm76 160h-64v-84c0-6.627 5.373-12 12-12h40c6.627 0 12 5.373 12 12v84zm64-172c0 6.627-5.373 12-12 12h-40c-6.627 0-12-5.373-12-12v-40c0-6.627 5.373-12 12-12h40c6.627 0 12 5.373 12 12v40zm0-96c0 6.627-5.373 12-12 12h-40c-6.627 0-12-5.373-12-12v-40c0-6.627 5.373-12 12-12h40c6.627 0 12 5.373 12 12v40zm0-96c0 6.627-5.373 12-12 12h-40c-6.627 0-12-5.373-12-12V76c0-6.627 5.373-12 12-12h40c6.627 0 12 5.373 12 12v40z"/></svg></span>
<div class="t " style="left:512.3px;top:356.80px;color:#18235c">Gardie Cap</div>
<span class="abs" style="left:614.8px;top:356.9px"><svg width="16.4" height="19.4" viewBox="0 0 17 20"><g fill="url(#ug)"><ellipse cx="8.5" cy="5.9" rx="4.4" ry="5.7"/><path d="M5.700 8.500h5.600v3.200c0 .6.300 1 .9 1.200H4.800c.600-.200.900-.600.900-1.200z"/><path d="M8.500 11.300c4.700 0 8.300 1.700 8.300 4.500 0 2.400-3.700 3.900-8.300 3.900S.2 18.200.2 15.800c0-2.800 3.600-4.500 8.300-4.500z"/></g></svg></span>
<div class="t " style="left:636px;top:355.80px;color:#18235c">Linda</div>
<div class="t " style="left:714.8px;top:356.80px;width:119px;text-align:center;color:#2e2e2e">31/08/2023</div>
<div class="bdg" style="left:879.3px;top:356.2px;width:55px;background:#2aa584;color:#fff">Signée</div>
<div class="t " style="right:889.7px;top:356.80px;color:#0b6464">600,00</div>
<div class="t " style="right:783.5px;top:356.80px;color:#0b6464">280,00</div>
<div class="t " style="right:674.7px;top:356.80px;font-weight:bold;color:#0b6464">320,00</div>
<div class="t " style="right:565.5px;top:356.80px;color:#0b6464">+114.29%</div>
<div class="t " style="right:456.70000000000005px;top:356.80px;color:#2e2e2e">-520,00</div>
<div class="t " style="right:347.70000000000005px;top:356.80px;color:#2e2e2e">-11 880,00</div>
<div class="t " style="left:1587.5px;top:356.80px;color:#2e2e2e">Dossier incomplet</div>
<div class="abs" style="left:234px;top:384px;width:1672px;height:58px;background:#fff95e"></div>
<div class="abs" style="left:236px;top:390px;width:1670px;height:46px;background:#e7edf6"></div>
<span class="abs" style="left:241.3px;top:404.2px;"><svg viewBox="0 0 576 512" width="16.20" height="14.40" style=""><path fill="#5e9440" d="M218.17 424.14c-2.95-5.92-8.09-6.52-10.17-6.52s-7.22.59-10.02 6.19l-7.67 15.34c-6.37 12.78-25.03 11.37-29.48-2.09L144 386.59l-10.61 31.88c-5.89 17.66-22.38 29.53-41 29.53H80c-8.84 0-16-7.16-16-16s7.16-16 16-16h12.39c4.83 0 9.11-3.08 10.64-7.66l18.19-54.64c3.3-9.81 12.44-16.41 22.78-16.41s19.48 6.59 22.77 16.41l13.88 41.64c19.75-16.19 54.06-9.7 66 14.16 1.89 3.78 5.49 5.95 9.36 6.26v-82.12l128-127.09V160H248c-13.2 0-24-10.8-24-24V0H24C10.7 0 0 10.7 0 24v464c0 13.3 10.7 24 24 24h336c13.3 0 24-10.7 24-24v-40l-128-.11c-16.12-.31-30.58-9.28-37.83-23.75zM384 121.9c0-6.3-2.5-12.4-7-16.9L279.1 7c-4.5-4.5-10.6-7-17-7H256v128h128v-6.1zm-96 225.06V416h68.99l161.68-162.78-67.88-67.88L288 346.96zm280.54-179.63l-31.87-31.87c-9.94-9.94-26.07-9.94-36.01 0l-27.25 27.25 67.88 67.88 27.25-27.25c9.95-9.94 9.95-26.07 0-36.01z"/></svg></span>
<div class="t " style="left:261.2px;top:402.80px;color:#18235c">PR2308-0004</div>
<span class="abs" style="left:351px;top:405.4px;"><svg viewBox="0 0 512 512" width="14.20" height="14.20" style=""><path fill="#a3a3a3" d="M216 0h80c13.3 0 24 10.7 24 24v168h87.7c17.8 0 26.7 21.5 14.100 34.100L269.700 378.300c-7.500 7.500-19.800 7.500-27.300 0L90.100 226.100c-12.600-12.600-3.700-34.100 14.100-34.100H192V24c0-13.300 10.700-24 24-24zm296 376v112c0 13.300-10.700 24-24 24H24c-13.300 0-24-10.700-24-24V376c0-13.300 10.700-24 24-24h146.700l49 49c20.100 20.100 52.500 20.100 72.600 0l49-49H488c13.300 0 24 10.700 24 24zm-124 88c0-11-9-20-20-20s-20 9-20 20 9 20 20 20 20-9 20-20zm64 0c0-11-9-20-20-20s-20 9-20 20 9 20 20 20 20-9 20-20z"/></svg></span>
<span class="abs" style="left:387px;top:406px;"><svg viewBox="0 0 640 512" width="16.25" height="13.00" style=""><path fill="#6a5fa8" d="M384 320H256c-17.67 0-32 14.33-32 32v128c0 17.67 14.33 32 32 32h128c17.67 0 32-14.33 32-32V352c0-17.67-14.33-32-32-32zM192 32c0-17.67-14.33-32-32-32H32C14.33 0 0 14.33 0 32v128c0 17.67 14.33 32 32 32h95.720l73.160 128.040C211.980 300.980 232.400 288 256 288h.280L192 175.510V128h224V64H192V32zM608 0H480c-17.670 0-32 14.330-32 32v128c0 17.670 14.330 32 32 32h128c17.670 0 32-14.330 32-32V32c0-17.670-14.330-32-32-32z"/></svg></span>
<div class="t " style="left:406px;top:402.80px;color:#18235c">PJ2210-0…</div>
<span class="abs" style="left:496.2px;top:405.4px;"><svg viewBox="0 0 448 512" width="12.42" height="14.20" style=""><path fill="#6466ab" d="M436 480h-20V24c0-13.255-10.745-24-24-24H56C42.745 0 32 10.745 32 24v456H12c-6.627 0-12 5.373-12 12v20h448v-20c0-6.627-5.373-12-12-12zM128 76c0-6.627 5.373-12 12-12h40c6.627 0 12 5.373 12 12v40c0 6.627-5.373 12-12 12h-40c-6.627 0-12-5.373-12-12V76zm0 96c0-6.627 5.373-12 12-12h40c6.627 0 12 5.373 12 12v40c0 6.627-5.373 12-12 12h-40c-6.627 0-12-5.373-12-12v-40zm52 148h-40c-6.627 0-12-5.373-12-12v-40c0-6.627 5.373-12 12-12h40c6.627 0 12 5.373 12 12v40c0 6.627-5.373 12-12 12zm76 160h-64v-84c0-6.627 5.373-12 12-12h40c6.627 0 12 5.373 12 12v84zm64-172c0 6.627-5.373 12-12 12h-40c-6.627 0-12-5.373-12-12v-40c0-6.627 5.373-12 12-12h40c6.627 0 12 5.373 12 12v40zm0-96c0 6.627-5.373 12-12 12h-40c-6.627 0-12-5.373-12-12v-40c0-6.627 5.373-12 12-12h40c6.627 0 12 5.373 12 12v40zm0-96c0 6.627-5.373 12-12 12h-40c-6.627 0-12-5.373-12-12V76c0-6.627 5.373-12 12-12h40c6.627 0 12 5.373 12 12v40z"/></svg></span>
<div class="t " style="left:512.3px;top:402.80px;color:#18235c">Debiteurs/…</div>
<span class="abs" style="left:614.8px;top:402.9px"><svg width="16.4" height="19.4" viewBox="0 0 17 20"><g fill="url(#ug)"><ellipse cx="8.5" cy="5.9" rx="4.4" ry="5.7"/><path d="M5.700 8.500h5.600v3.200c0 .6.300 1 .9 1.200H4.800c.600-.200.900-.600.900-1.200z"/><path d="M8.500 11.300c4.700 0 8.300 1.700 8.300 4.500 0 2.400-3.700 3.900-8.300 3.900S.2 18.200.2 15.800c0-2.800 3.600-4.500 8.300-4.500z"/></g></svg></span>
<div class="t " style="left:636px;top:401.80px;color:#18235c">Sami</div>
<div class="t " style="left:714.8px;top:402.80px;width:119px;text-align:center;color:#2e2e2e">31/08/2023</div>
<div class="bdg" style="left:879.3px;top:402.2px;width:55px;background:#2aa584;color:#fff">Signée</div>
<div class="t " style="right:889.7px;top:402.80px;color:#0b6464">270,00</div>
<div class="t " style="right:783.5px;top:402.80px;color:#0b6464">105,00</div>
<div class="t " style="right:674.7px;top:402.80px;font-weight:bold;color:#0b6464">165,00</div>
<div class="t " style="right:565.5px;top:402.80px;color:#0b6464">+157.14%</div>
<div class="t " style="right:456.70000000000005px;top:402.80px;color:#2e2e2e">-195,00</div>
<div class="t " style="right:347.70000000000005px;top:402.80px;color:#2e2e2e">-240,00</div>
<div class="t " style="left:1587.5px;top:402.80px;color:#2e2e2e">En attente d'accord FI</div>
<span class="abs" style="left:1737.1px;top:392.4px;"><svg viewBox="0 0 512 512" width="14.00" height="14.00" style=""><path fill="#14175a" d="M504 255.531c.253 136.640-111.180 248.372-247.820 248.468-59.015.042-113.223-20.530-155.822-54.911-11.077-8.940-11.905-25.541-1.839-35.607l11.267-11.267c8.609-8.609 22.353-9.551 31.891-1.984C173.062 425.135 212.781 440 256 440c101.705 0 184-82.311 184-184 0-101.705-82.311-184-184-184-48.814 0-93.149 18.969-126.068 49.932l50.754 50.754c10.080 10.080 2.941 27.314-11.313 27.314H24c-8.837 0-16-7.163-16-16V38.627c0-14.254 17.234-21.393 27.314-11.314l49.372 49.372C129.209 34.136 189.552 8 256 8c136.810 0 247.747 110.780 248 247.531zm-180.912 78.784l9.823-12.630c8.138-10.463 6.253-25.542-4.210-33.679L288 256.349V152c0-13.255-10.745-24-24-24h-16c-13.255 0-24 10.745-24 24v135.651l65.409 50.874c10.463 8.137 25.541 6.253 33.679-4.210z"/></svg></span>
<span class="abs" style="left:1739.2px;top:413px;"><svg viewBox="0 0 448 512" width="12.25" height="14.00" style=""><path fill="#7d6540" d="M224 256c70.700 0 128-57.300 128-128S294.700 0 224 0 96 57.300 96 128s57.300 128 128 128zm89.600 32h-16.700c-22.200 10.200-46.900 16-72.900 16s-50.600-5.800-72.900-16h-16.700C60.200 288 0 348.200 0 422.400V464c0 26.500 21.500 48 48 48h352c26.500 0 48-21.500 48-48v-41.600c0-74.200-60.200-134.400-134.400-134.400z"/></svg></span>
<div class="t " style="left:1755.4px;top:410.80px;color:#18235c">SuperAdmin</div>
<div class="abs" style="left:234px;top:442px;width:1672px;height:55px;background:#fbc8c8"></div>
<span class="abs" style="left:241.3px;top:461.2px;"><svg viewBox="0 0 576 512" width="16.20" height="14.40" style=""><path fill="#5e9440" d="M218.17 424.14c-2.95-5.92-8.09-6.52-10.17-6.52s-7.22.59-10.02 6.19l-7.67 15.34c-6.37 12.78-25.03 11.37-29.48-2.09L144 386.59l-10.61 31.88c-5.89 17.66-22.38 29.53-41 29.53H80c-8.84 0-16-7.16-16-16s7.16-16 16-16h12.39c4.83 0 9.11-3.08 10.64-7.66l18.19-54.64c3.3-9.81 12.44-16.41 22.78-16.41s19.48 6.59 22.77 16.41l13.88 41.64c19.75-16.19 54.06-9.7 66 14.16 1.89 3.78 5.49 5.95 9.36 6.26v-82.12l128-127.09V160H248c-13.2 0-24-10.8-24-24V0H24C10.7 0 0 10.7 0 24v464c0 13.3 10.7 24 24 24h336c13.3 0 24-10.7 24-24v-40l-128-.11c-16.12-.31-30.58-9.28-37.83-23.75zM384 121.9c0-6.3-2.5-12.4-7-16.9L279.1 7c-4.5-4.5-10.6-7-17-7H256v128h128v-6.1zm-96 225.06V416h68.99l161.68-162.78-67.88-67.88L288 346.96zm280.54-179.63l-31.87-31.87c-9.94-9.94-26.07-9.94-36.01 0l-27.25 27.25 67.88 67.88 27.25-27.25c9.95-9.94 9.95-26.07 0-36.01z"/></svg></span>
<div class="t " style="left:261.2px;top:459.80px;color:#18235c">PR2308-0003</div>
<span class="abs" style="left:351px;top:462.4px;"><svg viewBox="0 0 512 512" width="14.20" height="14.20" style=""><path fill="#a3a3a3" d="M216 0h80c13.3 0 24 10.7 24 24v168h87.7c17.8 0 26.7 21.5 14.100 34.100L269.700 378.300c-7.500 7.500-19.800 7.500-27.300 0L90.100 226.100c-12.600-12.600-3.700-34.100 14.100-34.100H192V24c0-13.300 10.700-24 24-24zm296 376v112c0 13.300-10.700 24-24 24H24c-13.300 0-24-10.700-24-24V376c0-13.300 10.700-24 24-24h146.700l49 49c20.100 20.100 52.500 20.100 72.600 0l49-49H488c13.300 0 24 10.700 24 24zm-124 88c0-11-9-20-20-20s-20 9-20 20 9 20 20 20 20-9 20-20zm64 0c0-11-9-20-20-20s-20 9-20 20 9 20 20 20 20-9 20-20z"/></svg></span>
<span class="abs" style="left:387px;top:463px;"><svg viewBox="0 0 640 512" width="16.25" height="13.00" style=""><path fill="#6a5fa8" d="M384 320H256c-17.67 0-32 14.33-32 32v128c0 17.67 14.33 32 32 32h128c17.67 0 32-14.33 32-32V352c0-17.67-14.33-32-32-32zM192 32c0-17.67-14.33-32-32-32H32C14.33 0 0 14.33 0 32v128c0 17.67 14.33 32 32 32h95.720l73.160 128.040C211.980 300.980 232.400 288 256 288h.280L192 175.510V128h224V64H192V32zM608 0H480c-17.670 0-32 14.330-32 32v128c0 17.670 14.330 32 32 32h128c17.670 0 32-14.330 32-32V32c0-17.670-14.330-32-32-32z"/></svg></span>
<div class="t " style="left:406px;top:459.80px;color:#18235c">PJ2210-0…</div>
<span class="abs" style="left:496.2px;top:462.4px;"><svg viewBox="0 0 448 512" width="12.42" height="14.20" style=""><path fill="#6466ab" d="M436 480h-20V24c0-13.255-10.745-24-24-24H56C42.745 0 32 10.745 32 24v456H12c-6.627 0-12 5.373-12 12v20h448v-20c0-6.627-5.373-12-12-12zM128 76c0-6.627 5.373-12 12-12h40c6.627 0 12 5.373 12 12v40c0 6.627-5.373 12-12 12h-40c-6.627 0-12-5.373-12-12V76zm0 96c0-6.627 5.373-12 12-12h40c6.627 0 12 5.373 12 12v40c0 6.627-5.373 12-12 12h-40c-6.627 0-12-5.373-12-12v-40zm52 148h-40c-6.627 0-12-5.373-12-12v-40c0-6.627 5.373-12 12-12h40c6.627 0 12 5.373 12 12v40c0 6.627-5.373 12-12 12zm76 160h-64v-84c0-6.627 5.373-12 12-12h40c6.627 0 12 5.373 12 12v84zm64-172c0 6.627-5.373 12-12 12h-40c-6.627 0-12-5.373-12-12v-40c0-6.627 5.373-12 12-12h40c6.627 0 12 5.373 12 12v40zm0-96c0 6.627-5.373 12-12 12h-40c-6.627 0-12-5.373-12-12v-40c0-6.627 5.373-12 12-12h40c6.627 0 12 5.373 12 12v40zm0-96c0 6.627-5.373 12-12 12h-40c-6.627 0-12-5.373-12-12V76c0-6.627 5.373-12 12-12h40c6.627 0 12 5.373 12 12v40z"/></svg></span>
<div class="t " style="left:512.3px;top:459.80px;color:#18235c">NextCop</div>
<span class="abs" style="left:614.8px;top:459.9px"><svg width="16.4" height="19.4" viewBox="0 0 17 20"><g fill="url(#ug)"><ellipse cx="8.5" cy="5.9" rx="4.4" ry="5.7"/><path d="M5.700 8.500h5.600v3.200c0 .6.300 1 .9 1.200H4.800c.600-.200.900-.600.900-1.200z"/><path d="M8.500 11.300c4.700 0 8.300 1.700 8.300 4.500 0 2.400-3.700 3.900-8.300 3.900S.2 18.200.2 15.800c0-2.800 3.600-4.500 8.300-4.500z"/></g></svg></span>
<div class="t " style="left:636px;top:458.80px;color:#18235c">majd</div>
<div class="t " style="left:714.8px;top:459.80px;width:119px;text-align:center;color:#2e2e2e">31/08/2023</div>
<div class="bdg" style="left:879.8px;top:459.2px;width:54.5px;background:#b8963a;color:#fff">Ouvert</div>
<div class="t " style="right:889.7px;top:459.80px;color:#0b6464">910,00</div>
<div class="t " style="right:783.5px;top:459.80px;color:#0b6464">950,00</div>
<div class="t " style="right:674.7px;top:459.80px;font-weight:bold;color:#0b6464">-40,00</div>
<div class="t " style="right:565.5px;top:459.80px;color:#0b6464">-4.21%</div>
<div class="t " style="right:456.70000000000005px;top:459.80px;color:#2e2e2e">885,00</div>
<div class="t " style="right:347.70000000000005px;top:459.80px;color:#2e2e2e">-240,00</div>
<div class="t " style="left:1587.5px;top:459.80px;color:#2e2e2e">En attente d'accord FI</div>
<span class="abs" style="left:1737.1px;top:449.4px;"><svg viewBox="0 0 512 512" width="14.00" height="14.00" style=""><path fill="#14175a" d="M504 255.531c.253 136.640-111.180 248.372-247.820 248.468-59.015.042-113.223-20.530-155.822-54.911-11.077-8.940-11.905-25.541-1.839-35.607l11.267-11.267c8.609-8.609 22.353-9.551 31.891-1.984C173.062 425.135 212.781 440 256 440c101.705 0 184-82.311 184-184 0-101.705-82.311-184-184-184-48.814 0-93.149 18.969-126.068 49.932l50.754 50.754c10.080 10.080 2.941 27.314-11.313 27.314H24c-8.837 0-16-7.163-16-16V38.627c0-14.254 17.234-21.393 27.314-11.314l49.372 49.372C129.209 34.136 189.552 8 256 8c136.810 0 247.747 110.780 248 247.531zm-180.912 78.784l9.823-12.630c8.138-10.463 6.253-25.542-4.210-33.679L288 256.349V152c0-13.255-10.745-24-24-24h-16c-13.255 0-24 10.745-24 24v135.651l65.409 50.874c10.463 8.137 25.541 6.253 33.679-4.210z"/></svg></span>
<span class="abs" style="left:1739.2px;top:470px;"><svg viewBox="0 0 448 512" width="12.25" height="14.00" style=""><path fill="#7d6540" d="M224 256c70.700 0 128-57.300 128-128S294.700 0 224 0 96 57.300 96 128s57.300 128 128 128zm89.600 32h-16.700c-22.200 10.200-46.900 16-72.900 16s-50.600-5.800-72.900-16h-16.700C60.200 288 0 348.200 0 422.400V464c0 26.500 21.500 48 48 48h352c26.500 0 48-21.500 48-48v-41.600c0-74.200-60.200-134.400-134.400-134.400z"/></svg></span>
<div class="t " style="left:1755.4px;top:467.80px;color:#18235c">SuperAdmin</div>
<div class="abs" style="left:234px;top:498px;width:1672px;height:35px;background:#fbc8c8"></div>
<span class="abs" style="left:241.3px;top:507.2px;"><svg viewBox="0 0 576 512" width="16.20" height="14.40" style=""><path fill="#5e9440" d="M218.17 424.14c-2.95-5.92-8.09-6.52-10.17-6.52s-7.22.59-10.02 6.19l-7.67 15.34c-6.37 12.78-25.03 11.37-29.48-2.09L144 386.59l-10.61 31.88c-5.89 17.66-22.38 29.53-41 29.53H80c-8.84 0-16-7.16-16-16s7.16-16 16-16h12.39c4.83 0 9.11-3.08 10.64-7.66l18.19-54.64c3.3-9.81 12.44-16.41 22.78-16.41s19.48 6.59 22.77 16.41l13.88 41.64c19.75-16.19 54.06-9.7 66 14.16 1.89 3.78 5.49 5.95 9.36 6.26v-82.12l128-127.09V160H248c-13.2 0-24-10.8-24-24V0H24C10.7 0 0 10.7 0 24v464c0 13.3 10.7 24 24 24h336c13.3 0 24-10.7 24-24v-40l-128-.11c-16.12-.31-30.58-9.28-37.83-23.75zM384 121.9c0-6.3-2.5-12.4-7-16.9L279.1 7c-4.5-4.5-10.6-7-17-7H256v128h128v-6.1zm-96 225.06V416h68.99l161.68-162.78-67.88-67.88L288 346.96zm280.54-179.63l-31.87-31.87c-9.94-9.94-26.07-9.94-36.01 0l-27.25 27.25 67.88 67.88 27.25-27.25c9.95-9.94 9.95-26.07 0-36.01z"/></svg></span>
<div class="t " style="left:261.2px;top:505.80px;color:#18235c">PR2308-0002</div>
<span class="abs" style="left:351px;top:508.4px;"><svg viewBox="0 0 512 512" width="14.20" height="14.20" style=""><path fill="#a3a3a3" d="M216 0h80c13.3 0 24 10.7 24 24v168h87.7c17.8 0 26.7 21.5 14.100 34.100L269.700 378.300c-7.500 7.500-19.800 7.500-27.300 0L90.100 226.100c-12.600-12.600-3.700-34.100 14.100-34.100H192V24c0-13.300 10.700-24 24-24zm296 376v112c0 13.300-10.700 24-24 24H24c-13.300 0-24-10.700-24-24V376c0-13.300 10.700-24 24-24h146.700l49 49c20.100 20.100 52.500 20.100 72.600 0l49-49H488c13.300 0 24 10.700 24 24zm-124 88c0-11-9-20-20-20s-20 9-20 20 9 20 20 20 20-9 20-20zm64 0c0-11-9-20-20-20s-20 9-20 20 9 20 20 20 20-9 20-20z"/></svg></span>
<span class="abs" style="left:387px;top:509px;"><svg viewBox="0 0 640 512" width="16.25" height="13.00" style=""><path fill="#6a5fa8" d="M384 320H256c-17.67 0-32 14.33-32 32v128c0 17.67 14.33 32 32 32h128c17.67 0 32-14.33 32-32V352c0-17.67-14.33-32-32-32zM192 32c0-17.67-14.33-32-32-32H32C14.33 0 0 14.33 0 32v128c0 17.67 14.33 32 32 32h95.720l73.160 128.040C211.980 300.980 232.400 288 256 288h.280L192 175.510V128h224V64H192V32zM608 0H480c-17.670 0-32 14.330-32 32v128c0 17.670 14.330 32 32 32h128c17.670 0 32-14.330 32-32V32c0-17.670-14.330-32-32-32z"/></svg></span>
<div class="t " style="left:406px;top:505.80px;color:#18235c">PJ2308-0…</div>
<span class="abs" style="left:496.2px;top:508.4px;"><svg viewBox="0 0 448 512" width="12.42" height="14.20" style=""><path fill="#6466ab" d="M436 480h-20V24c0-13.255-10.745-24-24-24H56C42.745 0 32 10.745 32 24v456H12c-6.627 0-12 5.373-12 12v20h448v-20c0-6.627-5.373-12-12-12zM128 76c0-6.627 5.373-12 12-12h40c6.627 0 12 5.373 12 12v40c0 6.627-5.373 12-12 12h-40c-6.627 0-12-5.373-12-12V76zm0 96c0-6.627 5.373-12 12-12h40c6.627 0 12 5.373 12 12v40c0 6.627-5.373 12-12 12h-40c-6.627 0-12-5.373-12-12v-40zm52 148h-40c-6.627 0-12-5.373-12-12v-40c0-6.627 5.373-12 12-12h40c6.627 0 12 5.373 12 12v40c0 6.627-5.373 12-12 12zm76 160h-64v-84c0-6.627 5.373-12 12-12h40c6.627 0 12 5.373 12 12v84zm64-172c0 6.627-5.373 12-12 12h-40c-6.627 0-12-5.373-12-12v-40c0-6.627 5.373-12 12-12h40c6.627 0 12 5.373 12 12v40zm0-96c0 6.627-5.373 12-12 12h-40c-6.627 0-12-5.373-12-12v-40c0-6.627 5.373-12 12-12h40c6.627 0 12 5.373 12 12v40zm0-96c0 6.627-5.373 12-12 12h-40c-6.627 0-12-5.373-12-12V76c0-6.627 5.373-12 12-12h40c6.627 0 12 5.373 12 12v40z"/></svg></span>
<div class="t " style="left:512.3px;top:505.80px;color:#18235c">Gardie Cap</div>
<span class="abs" style="left:614.8px;top:505.9px"><svg width="16.4" height="19.4" viewBox="0 0 17 20"><g fill="url(#ug)"><ellipse cx="8.5" cy="5.9" rx="4.4" ry="5.7"/><path d="M5.700 8.500h5.600v3.200c0 .6.300 1 .9 1.200H4.800c.600-.200.900-.600.900-1.200z"/><path d="M8.500 11.300c4.700 0 8.300 1.700 8.300 4.500 0 2.400-3.700 3.900-8.300 3.900S.2 18.200.2 15.800c0-2.800 3.600-4.500 8.300-4.500z"/></g></svg></span>
<div class="t " style="left:636px;top:504.80px;color:#18235c">Linda</div>
<div class="t " style="left:714.8px;top:505.80px;width:119px;text-align:center;color:#2e2e2e">31/08/2023</div>
<div class="bdg" style="left:879.3px;top:505.2px;width:55px;background:#2aa584;color:#fff">Signée</div>
<div class="t " style="right:889.7px;top:505.80px;color:#0b6464">350,00</div>
<div class="t " style="right:783.5px;top:505.80px;color:#0b6464">850,00</div>
<div class="t " style="right:674.7px;top:505.80px;font-weight:bold;color:#0b6464">-500,00</div>
<div class="t " style="right:565.5px;top:505.80px;color:#0b6464">-58.82%</div>
<div class="t " style="right:456.70000000000005px;top:505.80px;color:#2e2e2e">350,00</div>
<div class="t " style="right:347.70000000000005px;top:505.80px;color:#2e2e2e">-11 880,00</div>
<div class="t " style="left:1587.5px;top:505.80px;color:#2e2e2e">Dossier incomplet</div>
<div class="abs" style="left:234px;top:533px;width:1672px;height:56.6px;background:#e1f7c0"></div>
<span class="abs" style="left:241.3px;top:553.2px;"><svg viewBox="0 0 576 512" width="16.20" height="14.40" style=""><path fill="#5e9440" d="M218.17 424.14c-2.95-5.92-8.09-6.52-10.17-6.52s-7.22.59-10.02 6.19l-7.67 15.34c-6.37 12.78-25.03 11.37-29.48-2.09L144 386.59l-10.61 31.88c-5.89 17.66-22.38 29.53-41 29.53H80c-8.84 0-16-7.16-16-16s7.16-16 16-16h12.39c4.83 0 9.11-3.08 10.64-7.66l18.19-54.64c3.3-9.81 12.44-16.41 22.78-16.41s19.48 6.59 22.77 16.41l13.88 41.64c19.75-16.19 54.06-9.7 66 14.16 1.89 3.78 5.49 5.95 9.36 6.26v-82.12l128-127.09V160H248c-13.2 0-24-10.8-24-24V0H24C10.7 0 0 10.7 0 24v464c0 13.3 10.7 24 24 24h336c13.3 0 24-10.7 24-24v-40l-128-.11c-16.12-.31-30.58-9.28-37.83-23.75zM384 121.9c0-6.3-2.5-12.4-7-16.9L279.1 7c-4.5-4.5-10.6-7-17-7H256v128h128v-6.1zm-96 225.06V416h68.99l161.68-162.78-67.88-67.88L288 346.96zm280.54-179.63l-31.87-31.87c-9.94-9.94-26.07-9.94-36.01 0l-27.25 27.25 67.88 67.88 27.25-27.25c9.95-9.94 9.95-26.07 0-36.01z"/></svg></span>
<div class="t " style="left:261.2px;top:551.80px;color:#18235c">PR2308-0001</div>
<span class="abs" style="left:351px;top:554.4px;"><svg viewBox="0 0 512 512" width="14.20" height="14.20" style=""><path fill="#a3a3a3" d="M216 0h80c13.3 0 24 10.7 24 24v168h87.7c17.8 0 26.7 21.5 14.100 34.100L269.700 378.300c-7.500 7.500-19.800 7.500-27.300 0L90.100 226.100c-12.600-12.600-3.700-34.100 14.100-34.100H192V24c0-13.300 10.700-24 24-24zm296 376v112c0 13.300-10.700 24-24 24H24c-13.300 0-24-10.700-24-24V376c0-13.300 10.700-24 24-24h146.700l49 49c20.100 20.100 52.500 20.100 72.600 0l49-49H488c13.300 0 24 10.700 24 24zm-124 88c0-11-9-20-20-20s-20 9-20 20 9 20 20 20 20-9 20-20zm64 0c0-11-9-20-20-20s-20 9-20 20 9 20 20 20 20-9 20-20z"/></svg></span>
<span class="abs" style="left:387px;top:555px;"><svg viewBox="0 0 640 512" width="16.25" height="13.00" style=""><path fill="#6a5fa8" d="M384 320H256c-17.67 0-32 14.33-32 32v128c0 17.67 14.33 32 32 32h128c17.67 0 32-14.33 32-32V352c0-17.67-14.33-32-32-32zM192 32c0-17.67-14.33-32-32-32H32C14.33 0 0 14.33 0 32v128c0 17.67 14.33 32 32 32h95.720l73.160 128.040C211.980 300.980 232.400 288 256 288h.280L192 175.510V128h224V64H192V32zM608 0H480c-17.670 0-32 14.330-32 32v128c0 17.670 14.330 32 32 32h128c17.670 0 32-14.330 32-32V32c0-17.670-14.330-32-32-32z"/></svg></span>
<div class="t " style="left:406px;top:551.80px;color:#18235c">PJ2209-0…</div>
<span class="abs" style="left:496.2px;top:554.4px;"><svg viewBox="0 0 448 512" width="12.42" height="14.20" style=""><path fill="#6466ab" d="M436 480h-20V24c0-13.255-10.745-24-24-24H56C42.745 0 32 10.745 32 24v456H12c-6.627 0-12 5.373-12 12v20h448v-20c0-6.627-5.373-12-12-12zM128 76c0-6.627 5.373-12 12-12h40c6.627 0 12 5.373 12 12v40c0 6.627-5.373 12-12 12h-40c-6.627 0-12-5.373-12-12V76zm0 96c0-6.627 5.373-12 12-12h40c6.627 0 12 5.373 12 12v40c0 6.627-5.373 12-12 12h-40c-6.627 0-12-5.373-12-12v-40zm52 148h-40c-6.627 0-12-5.373-12-12v-40c0-6.627 5.373-12 12-12h40c6.627 0 12 5.373 12 12v40c0 6.627-5.373 12-12 12zm76 160h-64v-84c0-6.627 5.373-12 12-12h40c6.627 0 12 5.373 12 12v84zm64-172c0 6.627-5.373 12-12 12h-40c-6.627 0-12-5.373-12-12v-40c0-6.627 5.373-12 12-12h40c6.627 0 12 5.373 12 12v40zm0-96c0 6.627-5.373 12-12 12h-40c-6.627 0-12-5.373-12-12v-40c0-6.627 5.373-12 12-12h40c6.627 0 12 5.373 12 12v40zm0-96c0 6.627-5.373 12-12 12h-40c-6.627 0-12-5.373-12-12V76c0-6.627 5.373-12 12-12h40c6.627 0 12 5.373 12 12v40z"/></svg></span>
<div class="t " style="left:512.3px;top:551.80px;color:#18235c">Debiteurs/…</div>
<span class="abs" style="left:614.8px;top:551.9px"><svg width="16.4" height="19.4" viewBox="0 0 17 20"><g fill="url(#ug)"><ellipse cx="8.5" cy="5.9" rx="4.4" ry="5.7"/><path d="M5.700 8.500h5.600v3.200c0 .6.300 1 .9 1.200H4.800c.600-.200.900-.600.900-1.200z"/><path d="M8.500 11.300c4.700 0 8.300 1.700 8.300 4.500 0 2.400-3.700 3.900-8.300 3.900S.2 18.200.2 15.800c0-2.800 3.600-4.500 8.300-4.500z"/></g></svg></span>
<div class="t " style="left:636px;top:550.80px;color:#18235c">Sami</div>
<div class="t " style="left:714.8px;top:551.80px;width:119px;text-align:center;color:#2e2e2e">31/08/2023</div>
<div class="bdg" style="left:879.3px;top:551.2px;width:55px;background:#2aa584;color:#fff">Signée</div>
<div class="t " style="right:889.7px;top:551.80px;color:#0b6464">400,00</div>
<div class="t " style="right:783.5px;top:551.80px;color:#0b6464">200,00</div>
<div class="t " style="right:674.7px;top:551.80px;font-weight:bold;color:#0b6464">200,00</div>
<div class="t " style="right:565.5px;top:551.80px;color:#0b6464">+100%</div>
<div class="t " style="right:456.70000000000005px;top:551.80px;color:#2e2e2e">400,00</div>
<div class="t " style="right:347.70000000000005px;top:551.80px;color:#2e2e2e">0,00</div>
<div class="t " style="left:1587.5px;top:551.80px;color:#2e2e2e">Dossier non reçu</div>
<span class="abs" style="left:1737.1px;top:541.4px;"><svg viewBox="0 0 512 512" width="14.00" height="14.00" style=""><path fill="#14175a" d="M504 255.531c.253 136.640-111.180 248.372-247.820 248.468-59.015.042-113.223-20.530-155.822-54.911-11.077-8.940-11.905-25.541-1.839-35.607l11.267-11.267c8.609-8.609 22.353-9.551 31.891-1.984C173.062 425.135 212.781 440 256 440c101.705 0 184-82.311 184-184 0-101.705-82.311-184-184-184-48.814 0-93.149 18.969-126.068 49.932l50.754 50.754c10.080 10.080 2.941 27.314-11.313 27.314H24c-8.837 0-16-7.163-16-16V38.627c0-14.254 17.234-21.393 27.314-11.314l49.372 49.372C129.209 34.136 189.552 8 256 8c136.810 0 247.747 110.780 248 247.531zm-180.912 78.784l9.823-12.630c8.138-10.463 6.253-25.542-4.210-33.679L288 256.349V152c0-13.255-10.745-24-24-24h-16c-13.255 0-24 10.745-24 24v135.651l65.409 50.874c10.463 8.137 25.541 6.253 33.679-4.210z"/></svg></span>
<span class="abs" style="left:1739.2px;top:562px;"><svg viewBox="0 0 448 512" width="12.25" height="14.00" style=""><path fill="#7d6540" d="M224 256c70.700 0 128-57.300 128-128S294.700 0 224 0 96 57.300 96 128s57.300 128 128 128zm89.600 32h-16.700c-22.200 10.200-46.900 16-72.900 16s-50.600-5.800-72.900-16h-16.700C60.200 288 0 348.200 0 422.400V464c0 26.500 21.500 48 48 48h352c26.500 0 48-21.500 48-48v-41.600c0-74.200-60.200-134.400-134.400-134.400z"/></svg></span>
<div class="t " style="left:1755.4px;top:559.80px;color:#18235c">SuperAdmin</div>
<div class="abs" style="left:234px;top:589.6px;width:1672px;height:35.4px;background:#ffffff"></div>
<span class="abs" style="left:241.3px;top:599.2px;"><svg viewBox="0 0 576 512" width="16.20" height="14.40" style=""><path fill="#5e9440" d="M218.17 424.14c-2.95-5.92-8.09-6.52-10.17-6.52s-7.22.59-10.02 6.19l-7.67 15.34c-6.37 12.78-25.03 11.37-29.48-2.09L144 386.59l-10.61 31.88c-5.89 17.66-22.38 29.53-41 29.53H80c-8.84 0-16-7.16-16-16s7.16-16 16-16h12.39c4.83 0 9.11-3.08 10.64-7.66l18.19-54.64c3.3-9.81 12.44-16.41 22.78-16.41s19.48 6.59 22.77 16.41l13.88 41.64c19.75-16.19 54.06-9.7 66 14.16 1.89 3.78 5.49 5.95 9.36 6.26v-82.12l128-127.09V160H248c-13.2 0-24-10.8-24-24V0H24C10.7 0 0 10.7 0 24v464c0 13.3 10.7 24 24 24h336c13.3 0 24-10.7 24-24v-40l-128-.11c-16.12-.31-30.58-9.28-37.83-23.75zM384 121.9c0-6.3-2.5-12.4-7-16.9L279.1 7c-4.5-4.5-10.6-7-17-7H256v128h128v-6.1zm-96 225.06V416h68.99l161.68-162.78-67.88-67.88L288 346.96zm280.54-179.63l-31.87-31.87c-9.94-9.94-26.07-9.94-36.01 0l-27.25 27.25 67.88 67.88 27.25-27.25c9.95-9.94 9.95-26.07 0-36.01z"/></svg></span>
<div class="t " style="left:261.2px;top:597.80px;color:#18235c">(PROV3)</div>
<span class="abs" style="left:321.5px;top:600.4px;"><svg viewBox="0 0 512 512" width="14.20" height="14.20" style=""><path fill="#a3a3a3" d="M216 0h80c13.3 0 24 10.7 24 24v168h87.7c17.8 0 26.7 21.5 14.100 34.100L269.700 378.300c-7.500 7.500-19.800 7.500-27.300 0L90.100 226.100c-12.600-12.600-3.700-34.100 14.100-34.100H192V24c0-13.300 10.700-24 24-24zm296 376v112c0 13.300-10.700 24-24 24H24c-13.300 0-24-10.700-24-24V376c0-13.300 10.700-24 24-24h146.700l49 49c20.100 20.100 52.500 20.100 72.600 0l49-49H488c13.300 0 24 10.700 24 24zm-124 88c0-11-9-20-20-20s-20 9-20 20 9 20 20 20 20-9 20-20zm64 0c0-11-9-20-20-20s-20 9-20 20 9 20 20 20 20-9 20-20z"/></svg></span>
<span class="abs" style="left:496.2px;top:600.4px;"><svg viewBox="0 0 448 512" width="12.42" height="14.20" style=""><path fill="#6466ab" d="M436 480h-20V24c0-13.255-10.745-24-24-24H56C42.745 0 32 10.745 32 24v456H12c-6.627 0-12 5.373-12 12v20h448v-20c0-6.627-5.373-12-12-12zM128 76c0-6.627 5.373-12 12-12h40c6.627 0 12 5.373 12 12v40c0 6.627-5.373 12-12 12h-40c-6.627 0-12-5.373-12-12V76zm0 96c0-6.627 5.373-12 12-12h40c6.627 0 12 5.373 12 12v40c0 6.627-5.373 12-12 12h-40c-6.627 0-12-5.373-12-12v-40zm52 148h-40c-6.627 0-12-5.373-12-12v-40c0-6.627 5.373-12 12-12h40c6.627 0 12 5.373 12 12v40c0 6.627-5.373 12-12 12zm76 160h-64v-84c0-6.627 5.373-12 12-12h40c6.627 0 12 5.373 12 12v84zm64-172c0 6.627-5.373 12-12 12h-40c-6.627 0-12-5.373-12-12v-40c0-6.627 5.373-12 12-12h40c6.627 0 12 5.373 12 12v40zm0-96c0 6.627-5.373 12-12 12h-40c-6.627 0-12-5.373-12-12v-40c0-6.627 5.373-12 12-12h40c6.627 0 12 5.373 12 12v40zm0-96c0 6.627-5.373 12-12 12h-40c-6.627 0-12-5.373-12-12V76c0-6.627 5.373-12 12-12h40c6.627 0 12 5.373 12 12v40z"/></svg></span>
<div class="t " style="left:512.3px;top:597.80px;color:#18235c">NextCop</div>
<span class="abs" style="left:614.8px;top:597.9px"><svg width="16.4" height="19.4" viewBox="0 0 17 20"><g fill="url(#ug)"><ellipse cx="8.5" cy="5.9" rx="4.4" ry="5.7"/><path d="M5.700 8.500h5.600v3.200c0 .6.300 1 .9 1.200H4.800c.600-.200.900-.600.900-1.200z"/><path d="M8.500 11.300c4.700 0 8.300 1.700 8.300 4.500 0 2.400-3.700 3.900-8.300 3.900S.2 18.200.2 15.800c0-2.800 3.600-4.500 8.300-4.500z"/></g></svg></span>
<div class="t " style="left:636px;top:596.80px;color:#18235c">majd</div>
<div class="t " style="left:714.8px;top:597.80px;width:119px;text-align:center;color:#2e2e2e">31/08/2023</div>
<div class="bdg" style="left:864.2px;top:597.2px;width:70px;height:21.2px;background:#fff;color:#8f8f8f;border:1px solid #b6bec6;line-height:19px">Brouillon</div>
<div class="t " style="right:889.7px;top:597.80px;color:#0b6464">0,00</div>
<div class="t " style="right:783.5px;top:597.80px;color:#0b6464">0,00</div>
<div class="t " style="right:674.7px;top:597.80px;color:#0b6464">0,00</div>
<div class="t " style="right:565.5px;top:597.80px;color:#0b6464">0%</div>
<div class="t " style="right:456.70000000000005px;top:597.80px;color:#2e2e2e">0,00</div>
<div class="t " style="right:347.70000000000005px;top:597.80px;color:#2e2e2e">0,00</div>
<div class="abs" style="left:234px;top:497px;width:1672px;height:1px;background:#fcdada"></div>
<div class="abs" style="left:234px;top:625px;width:1672px;height:1px;background:#e9e9e9"></div>
<div class="abs" style="left:234px;top:626px;width:1672px;height:33px;background:#fbfbfb"></div>
<div class="abs" style="left:234px;top:659px;width:1672px;height:1px;background:#dedede"></div>
<div class="t " style="left:242px;top:632.80px;color:#8e8e8e">Total</div>
<div class="t " style="right:889.7px;top:632.80px;color:#8e8e8e">2 530,00</div>
<div class="t " style="right:783.5px;top:632.80px;color:#8e8e8e">2 385,00</div>
<div class="t " style="right:674.7px;top:632.80px;color:#8e8e8e">145,00</div>
<div class="t " style="right:456.70000000000005px;top:632.80px;color:#8e8e8e">920,00</div>
<svg class="abs" style="left:0;top:0;pointer-events:none" width="1920" height="1193" viewBox="0 0 1920 1193"><rect x="1035.75" y="300.5" width="113" height="363.8" fill="none" stroke="#e6121a" stroke-width="2.6"/><rect x="1580.3" y="300.5" width="148.5" height="363.8" fill="none" stroke="#e6121a" stroke-width="2.6"/><rect x="1034.45" y="384" width="2.600" height="6" fill="#6a5c14"/><rect x="1034.45" y="436" width="2.600" height="6" fill="#6a5c14"/><rect x="1147.45" y="384" width="2.600" height="6" fill="#6a5c14"/><rect x="1147.45" y="436" width="2.600" height="6" fill="#6a5c14"/><rect x="1579" y="384" width="2.600" height="6" fill="#6a5c14"/><rect x="1579" y="436" width="2.600" height="6" fill="#6a5c14"/><rect x="1727.5" y="384" width="2.600" height="6" fill="#6a5c14"/><rect x="1727.5" y="436" width="2.600" height="6" fill="#6a5c14"/><path d="M189 409 L219.700 409 Q218.900 403.200 217.200 397.300 Q219.400 405.750 230.300 411.400 Q219.400 417.050 217.200 425.500 Q218.900 419.600 219.700 413.800 L189 413.800 Z" fill="#f50a0a"/></svg>
</div>

<!-- FOOTER -->
<div id="foot"><span>www.nextgestion.com</span></div>
<div id="num"></div>
<div id="one">1</div>
<div class="cov" style="left:36px;top:1150px;width:38.9px;height:30px"></div>
<div class="cov" style="left:89.1px;top:1150px;width:40px;height:30px"></div>
</body>
</html>
